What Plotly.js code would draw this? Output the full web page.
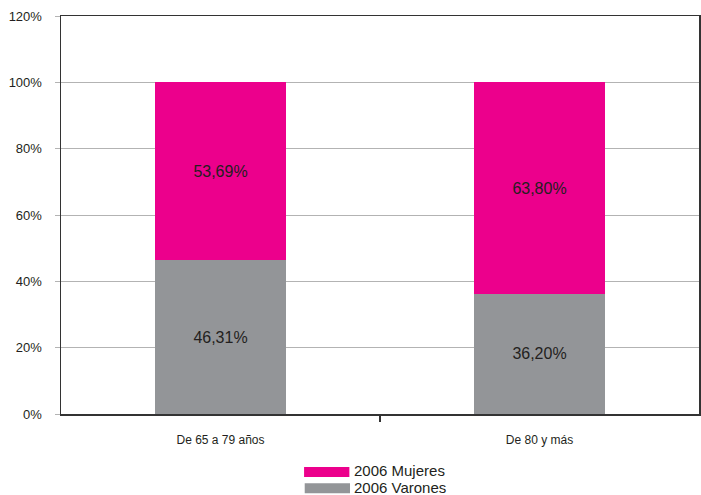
<!DOCTYPE html>
<html>
<head>
<meta charset="utf-8">
<script src="https://cdn.plot.ly/plotly-3.0.1.min.js"></script>
<style>
  html, body { margin: 0; padding: 0; background: #fff; }
  #chart { width: 701px; height: 495px; }
</style>
</head>
<body>
<div id="chart"></div>
<script>
const categories = ["De 65 a 79 años", "De 80 y más"];
const mujeres = [53.69, 63.8];
const varones = [46.31, 36.2];
const seriesNames = ["2006 Mujeres", "2006 Varones"];

const PINK = "#ec008c";
const GREY = "#939598";
const FONT = "Liberation Sans, Arial, Helvetica, sans-serif";

const common = {
  type: "bar",
  x: categories,
  width: 0.41,
  texttemplate: "%{y:.2f}%",
  textposition: "inside",
  insidetextanchor: "middle",
  textfont: { family: FONT, size: 16, color: "#231f20" },
  hoverinfo: "skip",
  showlegend: false,
};

const traceVarones = Object.assign({}, common, {
  y: varones,
  name: seriesNames[1],
  marker: { color: GREY },
});

const traceMujeres = Object.assign({}, common, {
  y: mujeres,
  name: seriesNames[0],
  marker: { color: PINK },
});

// empty trace so the overlay axis (single middle tick) gets drawn
const tickTrace = {
  type: "scatter", x: [], y: [], xaxis: "x2", yaxis: "y",
  hoverinfo: "skip", showlegend: false,
};

// legend drawn by hand, wide swatches like the original
const legendShapes = [
  { type: "rect", xref: "paper", yref: "paper", x0: 0.381, x1: 0.452, y0: -0.133, y1: -0.158, fillcolor: PINK, line: { width: 0 } },
  { type: "rect", xref: "paper", yref: "paper", x0: 0.382, x1: 0.453, y0: -0.174, y1: -0.199, fillcolor: GREY, line: { width: 0 } },
];
const legendText = seriesNames.map((n, i) => ({
  xref: "paper", yref: "paper",
  x: 0.456, y: i === 0 ? -0.143 : -0.184,
  xanchor: "left", yanchor: "middle",
  text: n, showarrow: false,
  font: { family: FONT, size: 15, color: "#231f20" },
}));

const layout = {
  width: 701,
  height: 495,
  margin: { l: 61, r: 2, t: 16, b: 81 },
  paper_bgcolor: "#fff",
  plot_bgcolor: "#fff",
  font: { family: FONT, color: "#231f20" },
  separators: ",.",
  barmode: "stack",
  showlegend: false,
  xaxis: {
    type: "category",
    ticks: "",
    ticklabelstandoff: 14,
    tickfont: { family: FONT, size: 12, color: "#231f20" },
    showline: true,
    mirror: true,
    linecolor: "#333",
    linewidth: 1.5,
    showgrid: false,
    fixedrange: true,
  },
  xaxis2: {
    overlaying: "x",
    side: "bottom",
    range: [-0.5, 1.5],
    tickvals: [0.5],
    showticklabels: false,
    ticks: "outside",
    ticklen: 7,
    tickcolor: "#333",
    tickwidth: 1.2,
    showgrid: false,
    zeroline: false,
    showline: false,
    fixedrange: true,
  },
  yaxis: {
    range: [0, 120],
    dtick: 20,
    ticksuffix: "%",
    ticks: "outside",
    ticklen: 5,
    tickcolor: "#b3b3b3",
    ticklabelstandoff: 10,
    tickfont: { family: FONT, size: 13, color: "#231f20" },
    showgrid: true,
    gridcolor: "#b3b3b3",
    gridwidth: 1,
    showline: true,
    mirror: true,
    linecolor: "#333",
    linewidth: 1.5,
    zeroline: false,
    fixedrange: true,
  },
  shapes: legendShapes,
  annotations: legendText,
};

Plotly.newPlot("chart", [traceVarones, traceMujeres, tickTrace], layout, { displayModeBar: false, staticPlot: true });
</script>
</body>
</html>
